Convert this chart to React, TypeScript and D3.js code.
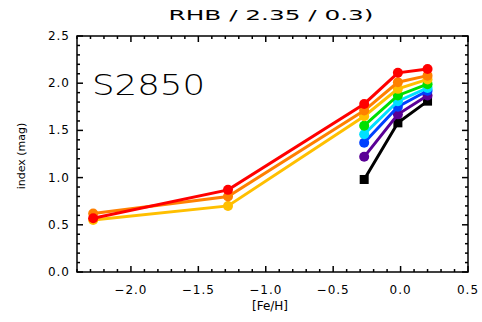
import React from "react";
import * as d3 from "d3";

const xLow = [-2.28, -1.28, -0.27, -0.02, 0.2];
const xHigh = [-0.27, -0.02, 0.2];

const redVals = [0.57, 0.87, 1.78, 2.11, 2.15];
const orangeVals = [0.62, 0.8, 1.71, 2.01, 2.08];
const goldVals = [0.55, 0.7, 1.65, 1.94, 2.04];
const greenVals = [1.55, 1.87, 1.99];
const cyanVals = [1.46, 1.81, 1.95];
const blueVals = [1.37, 1.75, 1.92];
const purpleVals = [1.22, 1.67, 1.87];
const blackVals = [0.98, 1.58, 1.81];

const xTickVals = [-2.0, -1.5, -1.0, -0.5, 0.0, 0.5];
const xTickLabels = ["\u22122.0", "\u22121.5", "\u22121.0", "\u22120.5", "0.0", "0.5"];
const yTickVals = [0, 0.5, 1.0, 1.5, 2.0, 2.5];
const yTickLabels = ["0.0", "0.5", "1.0", "1.5", "2.0", "2.5"];

const W = 482, H = 322;
const L = 77, R = 468, T = 36, B = 272;

export default function App() {
  const x = d3.scaleLinear().domain([-2.4, 0.5]).range([L, R]);
  const y = d3.scaleLinear().domain([0, 2.5]).range([B, T]);

  const series = [
    { xs: xHigh, ys: blackVals, color: "#000000", square: true },
    { xs: xHigh, ys: purpleVals, color: "#5a0096" },
    { xs: xHigh, ys: blueVals, color: "#0040ff" },
    { xs: xHigh, ys: cyanVals, color: "#00e0ff" },
    { xs: xHigh, ys: greenVals, color: "#00e000" },
    { xs: xLow, ys: goldVals, color: "#ffbf00" },
    { xs: xLow, ys: orangeVals, color: "#ff8000" },
    { xs: xLow, ys: redVals, color: "#ff0000" },
  ];

  const line = d3.line<[number, number]>().x((d) => x(d[0])).y((d) => y(d[1]));

  const xMinor = d3.range(-24, 6).map((i) => i / 10);
  const yMinor = d3.range(0, 26).map((i) => i / 10);
  const isMajor = (v: number) => Math.abs(v * 2 - Math.round(v * 2)) < 1e-6;

  const font = "'DejaVu Sans', sans-serif";

  return (
    <svg width={W} height={H} style={{ position: "absolute", left: 0, top: 0, background: "#fff" }}>
      <rect x={0} y={0} width={W} height={H} fill="#fff" />
      {series.map((s, i) => {
        const pts = s.xs.map((xv, j) => [xv, s.ys[j]] as [number, number]);
        return (
          <g key={i}>
            <path d={line(pts) || ""} fill="none" stroke={s.color} strokeWidth={3} />
            {pts.map((p, j) =>
              s.square ? (
                <rect key={j} x={x(p[0]) - 4.5} y={y(p[1]) - 4.5} width={9} height={9} fill={s.color} />
              ) : (
                <circle key={j} cx={x(p[0])} cy={y(p[1])} r={5} fill={s.color} />
              )
            )}
          </g>
        );
      })}
      <rect x={L} y={T} width={R - L} height={B - T} fill="none" stroke="#000" strokeWidth={1.5} />
      {xMinor.map((v, i) => {
        const len = isMajor(v) ? 6 : 3;
        return (
          <g key={"xt" + i} stroke="#000" strokeWidth={1.5}>
            <line x1={x(v)} x2={x(v)} y1={B} y2={B - len} />
            <line x1={x(v)} x2={x(v)} y1={T} y2={T + len} />
          </g>
        );
      })}
      {yMinor.map((v, i) => {
        const len = isMajor(v) ? 6 : 3;
        return (
          <g key={"yt" + i} stroke="#000" strokeWidth={1.5}>
            <line x1={L} x2={L + len} y1={y(v)} y2={y(v)} />
            <line x1={R} x2={R - len} y1={y(v)} y2={y(v)} />
          </g>
        );
      })}
      {xTickVals.map((v, i) => (
        <text key={"xl" + i} x={x(v)} y={294} textAnchor="middle" fontFamily={font} fontSize={12} letterSpacing={1}>
          {xTickLabels[i]}
        </text>
      ))}
      {yTickVals.map((v, i) => (
        <text key={"yl" + i} x={70} y={y(v) + 4} textAnchor="end" fontFamily={font} fontSize={12} letterSpacing={1}>
          {yTickLabels[i]}
        </text>
      ))}
      <text x={271} y={20} textAnchor="middle" fontFamily={font} fontSize={14} textLength={205} lengthAdjust="spacingAndGlyphs">
        RHB / 2.35 / 0.3)
      </text>
      <text x={92} y={95} fontFamily={font} fontSize={28} fontWeight={200} textLength={113} lengthAdjust="spacingAndGlyphs">
        S2850
      </text>
      <text x={270} y={310} textAnchor="middle" fontFamily={font} fontSize={12}>
        [Fe/H]
      </text>
      <text transform="translate(25,156) rotate(-90)" textAnchor="middle" fontFamily={font} fontSize={11}>
        index (mag)
      </text>
    </svg>
  );
}
